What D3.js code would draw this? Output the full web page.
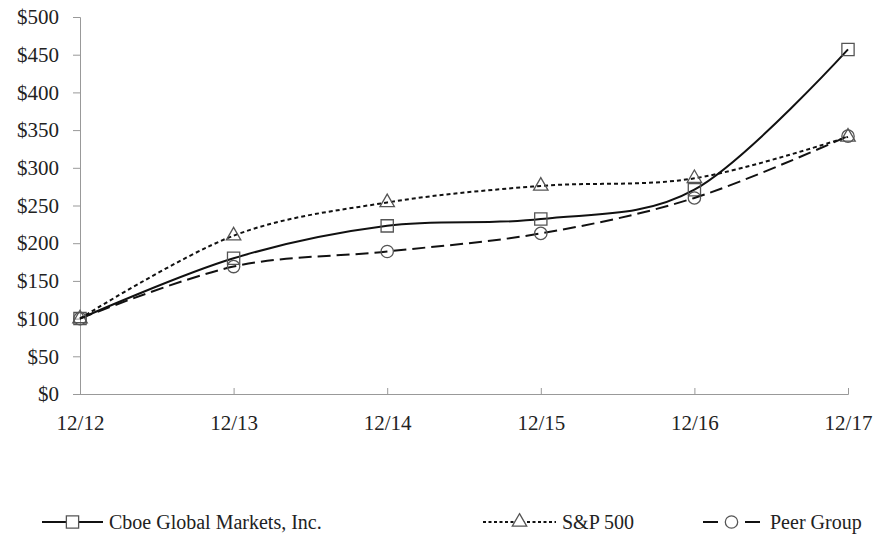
<!DOCTYPE html>
<html>
<head>
<meta charset="utf-8">
<script src="https://cdn.jsdelivr.net/npm/d3@7"></script>
<style>
  body { margin: 0; background: #fff; }
  text { font-family: "Liberation Serif", "Times New Roman", serif; fill: #222; }
</style>
</head>
<body>
<div id="chart"></div>
<script>
var width = 884,
    height = 538;

var periods = ["12/12", "12/13", "12/14", "12/15", "12/16", "12/17"];
var cboe = [100, 180, 223, 232, 271, 457];
var sp500 = [100, 210, 254, 276, 286, 341];
var peer = [100, 169, 189, 213, 260, 342];
var yTicks = [0, 50, 100, 150, 200, 250, 300, 350, 400, 450, 500];

var series = [
  {name: "Cboe Global Markets, Inc.", values: cboe, dash: null, marker: "square"},
  {name: "S&P 500", values: sp500, dash: "4,3", marker: "triangle"},
  {name: "Peer Group", values: peer, dash: "13,6", marker: "circle"}
];

var svg = d3.select("#chart").append("svg")
    .attr("width", width)
    .attr("height", height);

var x = d3.scalePoint().domain(periods).range([80, 848]);
var y = d3.scaleLinear().domain([0, 500]).range([394, 17]);

// y axis
var yAxis = svg.append("g")
    .attr("transform", "translate(80,0)")
    .call(d3.axisLeft(y).tickValues(yTicks).tickSize(7).tickPadding(14)
      .tickFormat(function(d){ return "$" + d; }));
yAxis.select(".domain").attr("stroke", "#999");
yAxis.selectAll(".tick line").attr("stroke", "#999");
yAxis.selectAll("text").style("font-size", "21px").attr("fill", "#222");

// x axis
var xAxis = svg.append("g")
    .attr("transform", "translate(0,394)")
    .call(d3.axisBottom(x).tickSize(-6).tickSizeOuter(0).tickPadding(21));
xAxis.select(".domain").attr("stroke", "#999").attr("d", "M73,0.5H848.5V-6");
xAxis.selectAll(".tick line").attr("stroke", "#999");
xAxis.selectAll("text").style("font-size", "21px").attr("fill", "#222");

var line = d3.line()
    .x(function(d, i){ return x(periods[i]); })
    .y(function(d){ return y(d); })
    .curve(d3.curveCatmullRom.alpha(0));

var symbols = {
  square: d3.symbol().type(d3.symbolSquare).size(150),
  triangle: d3.symbol().type(d3.symbolTriangle).size(90),
  circle: d3.symbol().type(d3.symbolCircle).size(120)
};

series.forEach(function(s){
  svg.append("path")
    .datum(s.values)
    .attr("fill", "none")
    .attr("stroke", "#111")
    .attr("stroke-width", 2)
    .attr("stroke-dasharray", s.dash)
    .attr("d", line);

  svg.selectAll(null)
    .data(s.values)
    .enter().append("path")
    .attr("transform", function(d, i){ return "translate(" + x(periods[i]) + "," + y(d) + ")"; })
    .attr("d", symbols[s.marker])
    .attr("fill", "none")
    .attr("stroke", "#555")
    .attr("stroke-width", 1.3);
});

// legend
var legendX = [42, 483, 703];
var legendLen = [61, 73, 57];
var legendDash = [null, "3,2.5", "15,27,15"];
var legendGap = [6, 6, 10];
var legend = svg.selectAll(".legend")
    .data(series)
    .enter().append("g")
    .attr("class", "legend")
    .attr("transform", function(d, i){ return "translate(" + legendX[i] + ",522)"; });

legend.append("line")
    .attr("x1", 0)
    .attr("x2", function(d, i){ return legendLen[i]; })
    .attr("stroke", "#111")
    .attr("stroke-width", 2)
    .attr("stroke-dasharray", function(d, i){ return legendDash[i]; });

legend.append("path")
    .attr("transform", function(d, i){ return "translate(" + legendLen[i] / 2 + ",0)"; })
    .attr("d", function(d){ return symbols[d.marker](); })
    .attr("fill", "#fff")
    .attr("stroke", "#555")
    .attr("stroke-width", 1.3);

legend.append("text")
    .attr("x", function(d, i){ return legendLen[i] + legendGap[i]; })
    .attr("y", 7)
    .style("font-size", "20px")
    .text(function(d){ return d.name; });
</script>
</body>
</html>
